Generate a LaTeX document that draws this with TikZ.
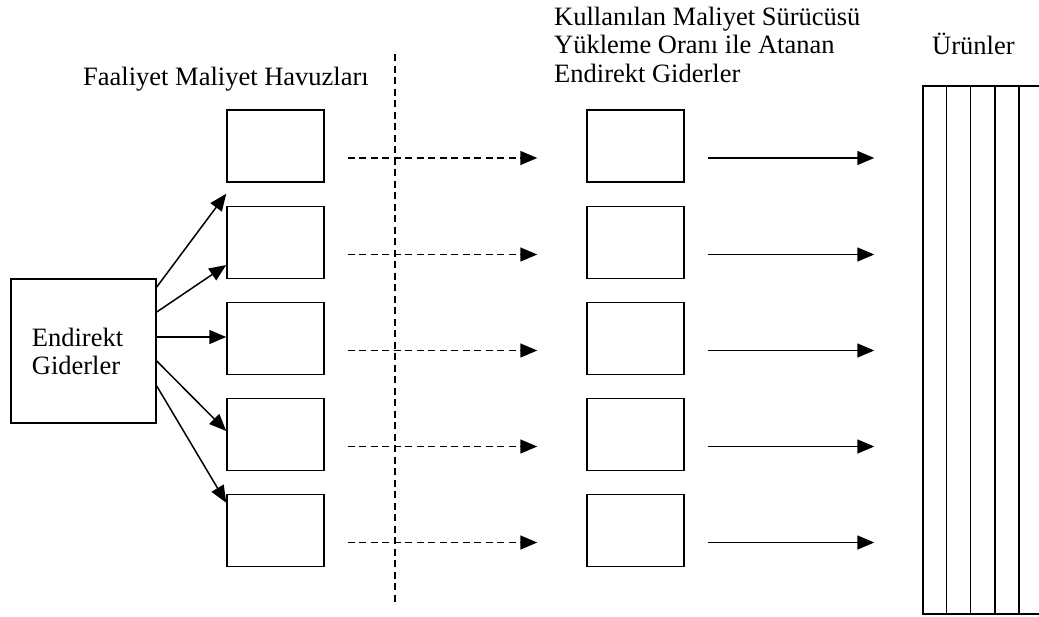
\documentclass[tikz,border=0pt]{standalone}
\usepackage{fontspec}
\setmainfont{Liberation Serif}
\usetikzlibrary{arrows.meta,calc}
\begin{document}
\begin{tikzpicture}[x=1pt,y=-1pt,
  every node/.style={font=\fontsize{26.5}{28.5}\selectfont},
  box/.style={draw,line width=1.5pt,inner sep=0pt,minimum width=97pt,minimum height=72pt},
  arr/.style={line width=1.5pt,-{Triangle[length=17pt,width=14pt]}},
  darr/.style={arr,dash pattern=on 7pt off 4.5pt},
  lbl/.style={anchor=base west,inner sep=0pt}]
\useasboundingbox (0,0) rectangle (1039,616);

% indirect costs source
\node[draw,line width=1.5pt,inner sep=0pt,minimum width=145pt,minimum height=144pt] (lb) at (83.5,351) {};
\node[align=left,inner sep=0pt] (lbt) at ([xshift=-6pt,yshift=-0.6pt]lb.center) {Endirekt\\Giderler};

% activity cost pools and assigned costs
\foreach \i/\y in {1/146,2/242.5,3/338.5,4/434.5,5/530.5} {
  \node[box] (p\i) at (275.5,\y) {};
  \node[box] (m\i) at (635.5,\y) {};
}

% products
\node[draw,line width=1.5pt,inner sep=0pt,minimum width=121pt,minimum height=528pt] (prod) at (983.5,350) {};
\foreach \k in {1,...,4}
  \draw[line width=1.5pt] ([xshift=\k*24.2pt]prod.north west) -- ([xshift=\k*24.2pt]prod.south west);

% separator
\coordinate (vt) at (395,54);
\coordinate (vb) at (395,606);
\draw[line width=1.5pt,dash pattern=on 7pt off 4.5pt] (vt) -- (vb);

% distribution to the pools
\draw[arr] ($(lb.east)+(0,-64)$) -- ($(p1.south west)+(0,11)$);
\draw[arr] ($(lb.east)+(0,-39)$) -- ($(p2.west)+(0,22.5)$);
\draw[arr] ($(lb.east)+(0,-14)$) -- ($(lb.east -| p3.west)+(0,-14)$);
\draw[arr] ($(lb.east)+(0,10)$) -- ($(p4.west)+(0,-3.5)$);
\draw[arr] ($(lb.east)+(0,35)$) -- ($(p5.north west)+(0,9)$);

% flows to assigned costs and products
\foreach \i in {1,...,5} {
  \draw[darr] ($(p\i.east)+(23,12)$) -- ($(m\i.west)+(-49,12)$);
  \draw[arr] ($(m\i.east)+(23,12)$) -- ($(m\i.east -| prod.west)+(-48,12)$);
}

% headings
\node[lbl] (t1) at (554,25) {Kullanılan Maliyet Sürücüsü};
\node[lbl] (t2) at (554,53.5) {Yükleme Oranı ile Atanan};
\node[lbl] (t3) at (554,82) {Endirekt Giderler};
\node[lbl] (t4) at (83,85) {Faaliyet Maliyet Havuzları};
\node[lbl] (t5) at (932,54) {Ürünler};
\end{tikzpicture}
\end{document}
